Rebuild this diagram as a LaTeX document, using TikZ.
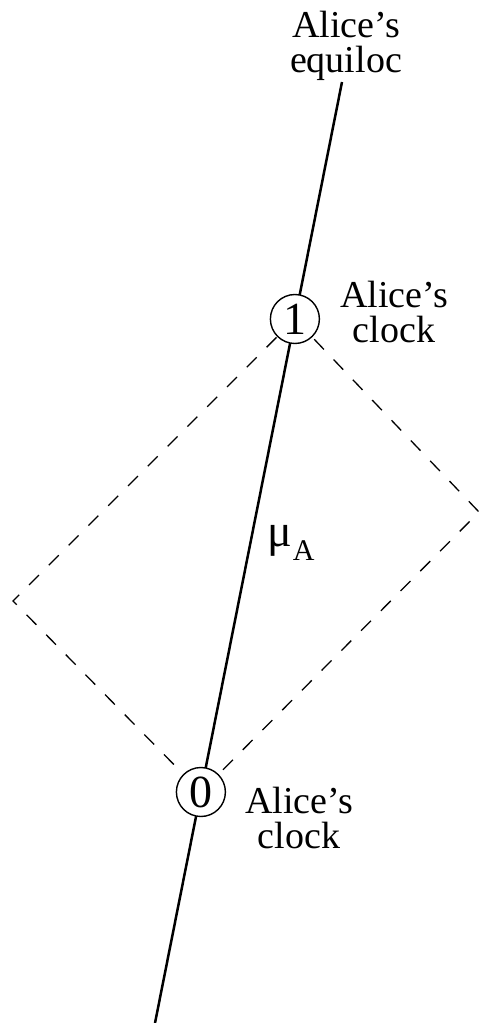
\documentclass[tikz,border=0pt]{standalone}
\usepackage{fontspec}
\setmainfont{Liberation Serif}
\begin{document}
\begin{tikzpicture}[x=1pt,y=-1pt,
  lbl/.style={align=center, font=\fontsize{38}{35}\selectfont, inner sep=0pt},
  clock/.style={circle, draw, line width=1.4pt, fill=white, minimum size=49pt, inner sep=0pt, font=\fontsize{46}{46}\selectfont},
  world/.style={line width=2.5pt},
  cone/.style={dash pattern=on 14pt off 14pt, line width=1.3pt}]
\useasboundingbox (0,0) rectangle (481,1023);
% event coordinates
\coordinate (p1) at (294.9,319);
\coordinate (p0) at (200.9,792);
\coordinate (R) at (479,512);
\coordinate (L) at (13,601);
\coordinate (bot) at (155,1023);
\coordinate (top) at (342,82);
% light cone diamond
\draw[cone] (p1) -- (R) -- (p0) -- (L) -- cycle;
% world line
\draw[world] (bot) -- (top);
% clocks
\node[clock] (c1) at (p1) {1};
\node[clock] (c0) at (p0) {0};
% labels (base anchor = last line's baseline)
\node[lbl, anchor=base] (eq) at (346,72) {Alice's\\equiloc};
\node[lbl, anchor=base] (l1) at (394,342) {Alice's\\clock};
\node[lbl, anchor=base] (l0) at (299,848) {Alice's\\clock};
\node[anchor=base west, inner sep=0pt, font=\fontsize{46}{46}\selectfont] (mu) at (267,546) {μ\kern1pt\raisebox{-14pt}{\fontsize{30}{30}\selectfont A}};
\end{tikzpicture}
\end{document}
